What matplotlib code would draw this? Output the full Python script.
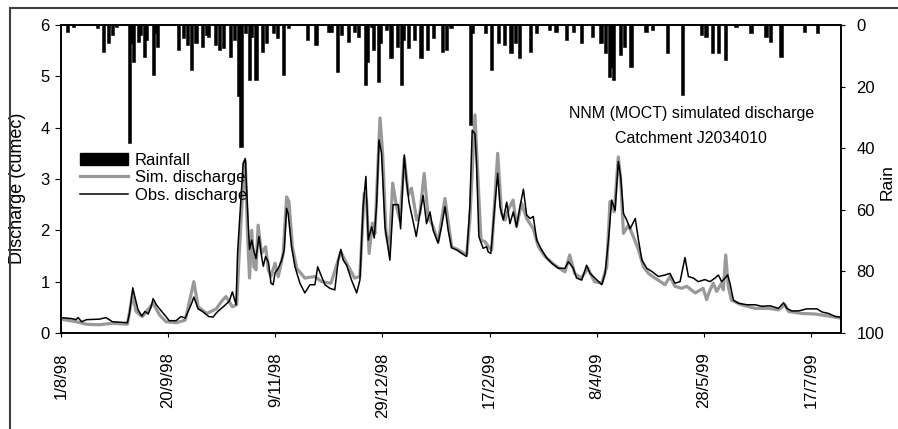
import matplotlib
matplotlib.use("Agg")
import matplotlib.pyplot as plt
from matplotlib.lines import Line2D
from matplotlib.patches import Patch

plt.rcParams['font.family'] = ['Liberation Sans', 'DejaVu Sans']

# days since 1/8/98
tick_days = [0, 50, 100, 150, 200, 250, 300, 350]
tick_labels = ['1/8/98', '20/9/98', '9/11/98', '29/12/98', '17/2/99', '8/4/99', '28/5/99', '17/7/99']

# daily rainfall (mm)
rain_day = [3, 6, 17, 20, 22, 24, 26, 32, 33, 34, 36, 37, 39, 40, 43, 44, 45, 55, 57, 59,
            61, 63, 66, 68, 69, 72, 74, 76, 79, 81, 83, 84, 86, 88, 89, 91, 94, 96, 99, 101,
            104, 106, 115, 119, 125, 126, 129, 131, 134, 137, 139, 142, 143, 145, 146, 148, 149, 152, 154, 157,
            159, 160, 162, 165, 168, 171, 174, 178, 180, 182, 191, 192, 198, 201, 204, 207, 210, 212, 214, 219,
            222, 228, 231, 236, 239, 243, 248, 252, 254, 256, 257, 258, 261, 263, 266, 273, 276, 283, 290, 299,
            301, 304, 307, 310, 315, 322, 329, 331, 336, 347, 353]
rain_mm = [2.2, 0.5, 1.0, 8.7, 6.0, 3.2, 0.5, 38.3, 6.0, 11.9, 5.4, 3.2, 10.3, 4.9, 16.2, 2.7, 7.0, 8.1, 4.3, 6.5,
           14.6, 6.0, 7.0, 3.2, 3.8, 6.5, 8.1, 7.6, 10.3, 4.9, 23.0, 39.5, 2.7, 17.9, 3.8, 17.9, 8.7, 6.0, 2.7, 4.3,
           16.2, 1.1, 4.9, 6.5, 2.2, 2.2, 15.2, 3.2, 5.4, 2.2, 3.8, 19.5, 11.9, 0.5, 8.1, 18.4, 6.0, 1.6, 10.8, 7.0,
           19.5, 4.9, 7.6, 4.9, 10.8, 8.1, 4.3, 8.7, 8.1, 1.1, 32.5, 2.7, 2.7, 14.6, 6.0, 6.5, 9.2, 6.0, 10.8, 8.7,
           2.7, 1.6, 2.2, 4.9, 2.2, 6.0, 3.8, 6.0, 9.2, 16.8, 13.5, 17.9, 9.7, 7.0, 13.5, 2.2, 1.6, 9.2, 22.7, 3.2,
           3.8, 9.2, 9.2, 11.4, 0.5, 2.7, 3.8, 5.4, 10.3, 2.2, 2.7]

# observed discharge (cumec)
obs_day = [0, 5, 7, 8, 9.6, 12, 18, 21, 24, 31, 32, 33.5, 34.5, 36, 37.7, 39.2, 40.7, 42, 43, 44.5,
           47, 49, 50.5, 53.7, 56, 58, 61, 62, 64, 66, 69, 71, 72.5, 74, 76, 78.5, 80, 81.7, 82.4, 85,
           86, 87.3, 88, 89, 90, 91, 92.4, 93.6, 94.4, 95.5, 96.8, 98, 99, 99.9, 101.4, 103, 104.2, 105.3, 106, 107.6,
           109.2, 111.5, 113.8, 116.2, 118.5, 119.8, 121.6, 123.2, 125.5, 127.8, 129.4, 130.6, 131.7, 133.3, 135.6, 138, 139.5, 141, 142.3, 143.4,
           145, 146.2, 147.3, 148.4, 149.6, 151.2, 153.5, 155, 157.4, 158.5, 160.2, 161.2, 162.4, 163.9, 165.8, 167.5, 169, 170.6, 172.2, 173.7,
           176, 177.6, 179.2, 180.7, 182.3, 184.6, 187, 189.3, 190.8, 191.9, 193.2, 193.9, 195, 197, 198.6, 199.4, 200.6, 202.5, 203.8, 204.9,
           206.4, 208, 209.5, 211.1, 212.6, 214.2, 215.8, 217.3, 218.9, 220.4, 222, 224.3, 226.7, 229, 232.1, 235.2, 236.8, 239.1, 240.6, 243,
           245.3, 246.9, 249.2, 252.4, 253.9, 255.5, 257, 258.6, 260.1, 261.2, 262.5, 264, 265.6, 268, 269.5, 271.1, 273.4, 275.7, 278.8, 281.9,
           284.2, 286.5, 288.9, 291.2, 292.8, 295.1, 297.4, 300.5, 302.9, 305.2, 306.8, 308.3, 309.9, 311.1, 312.2, 313.8, 316.1, 320, 323.9, 327,
           330.9, 334.8, 337.2, 338.7, 341, 344.2, 348.1, 352.8, 355.1, 358.2, 361.4, 364]
obs_q = [0.30, 0.28, 0.26, 0.30, 0.22, 0.26, 0.27, 0.30, 0.22, 0.20, 0.39, 0.88, 0.70, 0.45, 0.33, 0.42, 0.37, 0.50, 0.67, 0.55,
         0.42, 0.32, 0.24, 0.24, 0.32, 0.29, 0.58, 0.70, 0.47, 0.42, 0.32, 0.31, 0.39, 0.45, 0.52, 0.62, 0.80, 0.55, 1.55, 3.30,
         3.40, 2.20, 1.63, 1.81, 1.60, 1.45, 1.88, 1.50, 1.30, 1.49, 1.38, 0.97, 0.94, 1.17, 1.26, 1.42, 1.62, 2.43, 2.33, 1.68,
         1.29, 0.97, 0.78, 0.94, 0.94, 1.29, 1.10, 0.94, 0.87, 0.84, 1.42, 1.63, 1.42, 1.32, 1.03, 0.78, 1.03, 2.46, 3.05, 1.81,
         2.07, 1.85, 2.50, 3.76, 3.50, 2.07, 1.42, 2.50, 2.50, 2.03, 3.47, 2.98, 2.55, 2.26, 1.88, 2.33, 2.68, 2.13, 2.36, 2.00,
         1.75, 2.07, 2.46, 2.00, 1.66, 1.62, 1.55, 1.49, 2.46, 3.95, 3.88, 3.33, 1.88, 1.65, 1.68, 1.58, 1.55, 2.50, 3.11, 2.46,
         2.20, 2.55, 2.13, 2.36, 2.07, 2.46, 2.80, 2.30, 2.23, 2.27, 1.81, 1.62, 1.46, 1.36, 1.26, 1.26, 1.39, 1.26, 1.07, 1.03,
         1.32, 1.16, 1.07, 0.94, 1.16, 1.81, 2.59, 2.39, 3.34, 3.05, 2.33, 2.20, 2.03, 2.23, 1.81, 1.42, 1.26, 1.20, 1.10, 1.13,
         1.16, 0.97, 1.00, 1.47, 1.10, 1.07, 1.00, 1.04, 1.00, 1.07, 1.13, 1.00, 1.07, 1.13, 0.97, 0.64, 0.58, 0.55, 0.55, 0.52,
         0.53, 0.48, 0.59, 0.48, 0.43, 0.43, 0.47, 0.47, 0.41, 0.38, 0.32, 0.31]

# simulated discharge (cumec)
sim_day = [0, 7, 12, 18, 24, 31, 33.5, 35, 38, 43, 46, 49, 53.7, 58, 62, 64, 68, 72.5, 75, 77,
           80, 82, 83, 85.5, 86, 87, 88, 89, 90, 91, 92, 93.6, 95.5, 96.8, 98, 99.9, 101.4, 103.7, 105.3, 106.4,
           108, 110, 113.8, 118.5, 121.6, 126, 129.4, 130.6, 133.3, 137, 139.5, 141.5, 142.6, 143.8, 145.3, 146.5, 148.9, 150.1, 151.7, 153.2,
           154.8, 156.6, 158.2, 160.2, 162.1, 163.6, 166, 167.5, 169.5, 171.3, 173.7, 176, 179.2, 182.3, 185.4, 189.3, 190.8, 193.2, 194.4, 196,
           197.9, 199.4, 201, 203.8, 205.6, 207.2, 208.7, 211, 212.6, 214.9, 217.3, 220.4, 222.8, 225.9, 230.5, 235.2, 237.4, 239.7, 242.8, 245.9,
           249, 252.4, 254.7, 256.2, 258.2, 260.1, 261.2, 262.5, 264.8, 267.1, 269.5, 271.8, 274.2, 277.2, 281.9, 284.2, 286.5, 289.6, 292, 296,
           299.7, 301.3, 302.9, 304.4, 306, 308.3, 309.1, 310.2, 311.4, 312.9, 317.5, 323.9, 330.1, 334.8, 337.9, 339.5, 345.7, 351.9, 358.2, 364]
sim_q = [0.27, 0.22, 0.17, 0.16, 0.19, 0.17, 0.77, 0.42, 0.32, 0.58, 0.35, 0.22, 0.20, 0.25, 1.00, 0.51, 0.38, 0.47, 0.62, 0.71,
         0.51, 0.55, 1.40, 3.30, 3.35, 2.00, 1.07, 2.00, 1.29, 1.23, 2.10, 1.55, 1.68, 1.22, 1.10, 1.36, 1.10, 1.55, 2.65, 2.56,
         1.68, 1.26, 1.07, 1.10, 1.00, 0.97, 1.42, 1.58, 1.36, 1.07, 1.10, 2.72, 2.59, 1.55, 2.14, 1.94, 4.19, 3.50, 1.94, 1.62,
         2.92, 2.46, 2.20, 3.41, 2.69, 2.82, 2.20, 2.33, 3.11, 2.27, 2.07, 1.78, 2.62, 1.68, 1.62, 1.52, 2.20, 4.25, 3.17, 1.81,
         1.78, 1.68, 1.62, 3.50, 2.33, 2.20, 2.40, 2.59, 2.07, 2.53, 2.23, 2.03, 1.68, 1.49, 1.32, 1.19, 1.52, 1.16, 1.07, 1.26,
         1.00, 0.97, 1.29, 2.56, 2.36, 3.43, 2.98, 1.94, 2.10, 1.88, 1.62, 1.29, 1.16, 1.07, 0.94, 1.10, 0.91, 0.87, 0.91, 0.78,
         0.87, 0.65, 0.84, 0.97, 0.81, 0.97, 0.84, 1.52, 0.91, 0.64, 0.55, 0.48, 0.48, 0.45, 0.55, 0.42, 0.38, 0.37, 0.33, 0.29]

fig = plt.figure(figsize=(8.98, 4.29), dpi=100)
ax = fig.add_axes([0.0679, 0.2238, 0.8686, 0.7179])

ax.plot(sim_day, sim_q, color='#999999', lw=2.3, label='Sim. discharge')
ax.plot(obs_day, obs_q, color='black', lw=1.1, label='Obs. discharge')
ax.set_xlim(0, 364)
ax.set_ylim(0, 6)
ax.set_yticks([0, 1, 2, 3, 4, 5, 6])
ax.set_xticks(tick_days)
ax.set_xticklabels(tick_labels, rotation=90)
ax.tick_params(axis='y', labelsize=12, length=4.5, pad=3.5)
ax.tick_params(axis='x', labelsize=12, length=3, pad=11)
ax.set_ylabel('Discharge (cumec)', fontsize=13)
ax.yaxis.set_label_coords(-0.045, 0.47)

ax2 = ax.twinx()
ax2.bar(rain_day, rain_mm, width=1.5, color='black', edgecolor='black', linewidth=0.4, align='center')
ax2.set_ylim(100, 0)
ax2.set_yticks([0, 20, 40, 60, 80, 100])
ax2.tick_params(axis='y', labelsize=12, length=3, pad=8)
ax2.set_ylabel('Rain', fontsize=12.5)
ax2.yaxis.set_label_coords(1.05, 0.49)

for a in (ax, ax2):
    for s in a.spines.values():
        s.set_linewidth(1.2)

ax2.text(0.808, 0.714, 'NNM (MOCT) simulated discharge', transform=ax2.transAxes,
         ha='center', va='center', fontsize=11.5)
ax2.text(0.808, 0.633, 'Catchment J2034010', transform=ax2.transAxes,
         ha='center', va='center', fontsize=11.5)

handles = [Patch(facecolor='black', edgecolor='black'),
           Line2D([], [], color='#999999', lw=2.3),
           Line2D([], [], color='black', lw=1.1)]
ax2.legend(handles, ['Rainfall', 'Sim. discharge', 'Obs. discharge'],
           loc='upper left', bbox_to_anchor=(0.024, 0.585), frameon=False,
           fontsize=12, borderpad=0, borderaxespad=0, labelspacing=0.15,
           handlelength=2.9, handletextpad=0.4)

# outer chart border (top and left only are visible)
fig.add_artist(Line2D([0.0111, 1.0], [0.9825, 0.9825], color='#404040', lw=1.5,
                      transform=fig.transFigure))
fig.add_artist(Line2D([0.0111, 0.0111], [0.0, 0.9825], color='#404040', lw=1.5,
                      transform=fig.transFigure))

fig.savefig('out.png', dpi=100)
